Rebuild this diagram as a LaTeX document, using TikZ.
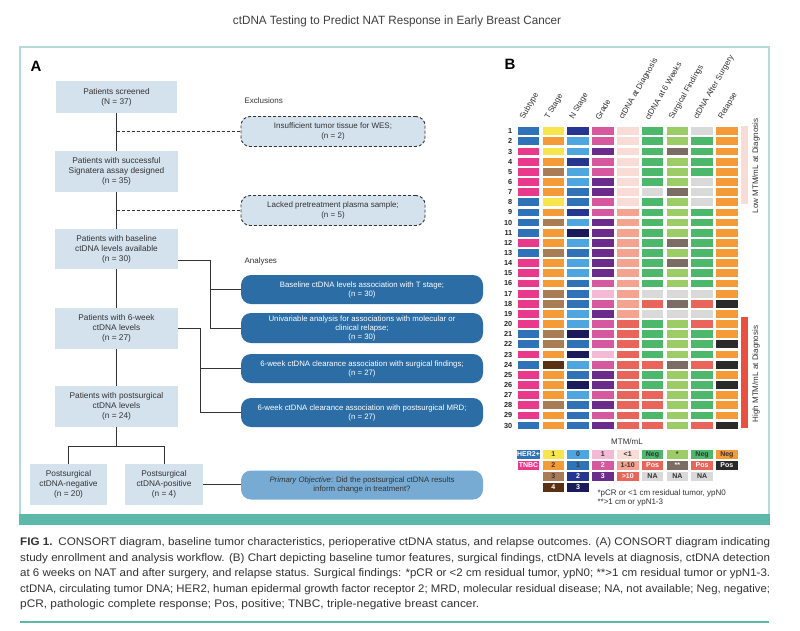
\documentclass[tikz,border=0pt]{standalone}
\usepackage{fontspec}
\setmainfont{Liberation Sans}
\usepackage{graphicx}
\definecolor{cHer}{HTML}{2F72B8}
\definecolor{cTn}{HTML}{E8398B}
\definecolor{cT1}{HTML}{F7E64B}
\definecolor{cT2}{HTML}{F49A36}
\definecolor{cT3}{HTML}{A87D55}
\definecolor{cT4}{HTML}{5A3213}
\definecolor{cN0}{HTML}{4DA6E0}
\definecolor{cN1}{HTML}{2F72B8}
\definecolor{cN2}{HTML}{24368F}
\definecolor{cN3}{HTML}{1B1B5C}
\definecolor{cG1}{HTML}{F3B9D5}
\definecolor{cG2}{HTML}{D6589F}
\definecolor{cG3}{HTML}{6B2B8B}
\definecolor{cD1}{HTML}{FADCD6}
\definecolor{cD2}{HTML}{F4A390}
\definecolor{cD3}{HTML}{E9655B}
\definecolor{cNeg}{HTML}{4DB86B}
\definecolor{cPos}{HTML}{E9655B}
\definecolor{cNA}{HTML}{D9D9D9}
\definecolor{cS1}{HTML}{9CCC66}
\definecolor{cS2}{HTML}{7B6C64}
\definecolor{cRn}{HTML}{F49A36}
\definecolor{cRp}{HTML}{2A2A2A}
\definecolor{cHi}{HTML}{E8503F}
\definecolor{boxfill}{HTML}{D4E2EE}
\definecolor{anafill}{HTML}{2C6DA5}
\definecolor{pofill}{HTML}{77ABD4}
\definecolor{cFrame}{HTML}{B3DCD7}
\definecolor{cTeal}{HTML}{5CB8A9}
\definecolor{txt}{HTML}{333333}
\begin{document}
\begin{tikzpicture}[x=1pt,y=-1pt,
  cbox/.style={fill=boxfill, minimum width=123pt, minimum height=41pt, align=center,
    font=\fontsize{8.3}{10}\selectfont, text=txt, inner sep=1pt},
  exbox/.style={fill=boxfill, draw=txt, dash pattern=on 3pt off 2pt, line width=0.9pt,
    rounded corners=9pt, minimum width=184pt, minimum height=30pt, align=center,
    font=\fontsize{8}{9.5}\selectfont, text=txt, inner sep=1pt},
  anbox/.style={fill=anafill, rounded corners=10pt, minimum width=242pt, minimum height=29pt,
    align=center, font=\fontsize{7.8}{9}\selectfont, text=white, inner sep=1pt},
  pobox/.style={anbox, fill=pofill, text=txt},
  conn/.style={draw=txt, line width=0.9pt},
  dconn/.style={conn, dash pattern=on 3pt off 2pt},
  lbl/.style={anchor=west, font=\fontsize{8}{9}\selectfont, text=txt},
  hdr/.style={anchor=south west, rotate=60, font=\fontsize{8}{9}\selectfont, text=txt, inner sep=0pt},
  rownum/.style={anchor=east, font=\bfseries\fontsize{7.3}{8}\selectfont, text=black!85, inner sep=0pt},
  legc/.style={minimum width=21.6pt, minimum height=8.5pt, inner sep=0pt, font=\bfseries\fontsize{7}{7}\selectfont},
  sidelbl/.style={rotate=90, font=\fontsize{8}{9}\selectfont, text=txt, inner sep=0pt},
  captxt/.style={anchor=west, inner sep=0pt, font=\fontsize{11}{13}\selectfont, text=txt},
  panellbl/.style={font=\bfseries\fontsize{15}{16}\selectfont, text=black}
]
\useasboundingbox (0,0) rectangle (800,630);
\fill[white] (0,0) rectangle (800,630);

% title
\node[inner sep=0pt, font=\fontsize{12}{14}\selectfont, text=black!75] (title) at (397,21)
  {\resizebox{328pt}{\height}{ctDNA Testing to Predict NAT Response in Early Breast Cancer}};

% frame
\draw[cFrame, line width=1.2pt] (20,514) -- (20,47) -- (769,47) -- (769,514);
\fill[cTeal] (19.4,514) rectangle (769.6,525);

% panel labels
\node[panellbl] (pA) at (36,66) {A};
\node[panellbl] (pB) at (510,64) {B};

% ---------- Panel A ----------
\node[cbox, minimum width=121pt, minimum height=32pt] (b1) at (116.5,97) {Patients screened\\(N = 37)};
\node[cbox] (b2) at (116.5,171.5) {Patients with successful\\Signatera assay designed\\(n = 35)};
\node[cbox, minimum height=40pt] (b3) at (116.5,249) {Patients with baseline\\ctDNA levels available\\(n = 30)};
\node[cbox] (b4) at (116.5,328.5) {Patients with 6-week\\ctDNA levels\\(n = 27)};
\node[cbox] (b5) at (116.5,406.5) {Patients with postsurgical\\ctDNA levels\\(n = 24)};
\node[cbox, minimum width=77pt] (b6) at (68.5,484.5) {Postsurgical\\ctDNA-negative\\(n = 20)};
\node[cbox, minimum width=78pt] (b7) at (164,484.5) {Postsurgical\\ctDNA-positive\\(n = 4)};

\node[lbl] (exl) at (241,101) {Exclusions};
\node[exbox] (e1) at (333,131.5) {Insufficient tumor tissue for WES;\\(n = 2)};
\node[exbox] (e2) at (333,210.5) {Lacked pretreatment plasma sample;\\(n = 5)};

\node[lbl] (anl) at (241,261) {Analyses};
\node[anbox] (a1) at (362,289.5) {Baseline ctDNA levels association with T stage;\\(n = 30)};
\node[anbox, minimum height=30pt] (a2) at (362,328) {Univariable analysis for associations with molecular or\\clinical relapse;\\(n = 30)};
\node[anbox] (a3) at (362,368.5) {6-week ctDNA clearance association with surgical findings;\\(n = 27)};
\node[anbox] (a4) at (362,412.5) {6-week ctDNA clearance association with postsurgical MRD;\\(n = 27)};
\node[pobox] (po) at (362,485) {\textit{Primary Objective}: Did the postsurgical ctDNA results\\inform change in treatment?};

\draw[conn] (b1) -- (b2);
\draw[conn] (b2) -- (b3);
\draw[conn] (b3) -- (b4);
\draw[conn] (b4) -- (b5);
\draw[dconn] (b1.south |- e1.west) -- (e1.west);
\draw[dconn] (b2.south |- e2.west) -- (e2.west);

\coordinate (j3) at (210,260);
\draw[conn] (b3.east |- j3) -- (j3) |- (a2.west);
\draw[conn] (j3 |- a1.west) -- (a1.west);
\coordinate (j4) at (200,328.5);
\draw[conn] (b4.east) -- (j4) |- (a4.west);
\draw[conn] (j4 |- a3.west) -- (a3.west);
\coordinate (s5) at (116.5,446);
\draw[conn] (b5.south) -- (s5);
\draw[conn] (b6.north) |- (s5) -| (b7.north);
\draw[conn] (b7.east) -- (b7.east -| po.west);

% ---------- Panel B ----------
\foreach \h [count=\i] in {Subtype, T Stage, N Stage, Grade, ctDNA at Diagnosis, ctDNA at 6 Weeks, Surgical Findings, ctDNA After Surgery, Relapse}
  \node[hdr] (h\i) at ({528.5+24.8*(\i-1)-3}, 121) {\h};

\foreach \r/\rowdata in {
 1/{cHer,cT1,cN2,cG2,cD1,cNeg,cS1,cNA,cRn},
 2/{cHer,cT2,cN0,cG2,cD1,cNeg,cS1,cNeg,cRn},
 3/{cTn,cT1,cN0,cG3,cD1,cNeg,cS2,cNeg,cRn},
 4/{cTn,cT2,cN2,cG2,cD1,cNeg,cS1,cNeg,cRn},
 5/{cTn,cT3,cN0,cG2,cD1,cNeg,cS1,cNeg,cRn},
 6/{cTn,cT2,cN0,cG3,cD1,cNeg,cS1,cNA,cRn},
 7/{cTn,cT2,cN1,cG3,cD1,cNA,cS2,cNA,cRn},
 8/{cHer,cT1,cN1,cG2,cD1,cNeg,cS1,cNA,cRn},
 9/{cHer,cT2,cN2,cG2,cD2,cNeg,cS1,cNeg,cRn},
 10/{cHer,cT3,cN0,cG3,cD2,cNeg,cS1,cNeg,cRn},
 11/{cHer,cT2,cN3,cG3,cD2,cNeg,cS1,cNeg,cRn},
 12/{cTn,cT2,cN0,cG3,cD2,cNeg,cS2,cNeg,cRn},
 13/{cHer,cT3,cN1,cG3,cD2,cNeg,cS1,cNeg,cRn},
 14/{cTn,cT2,cN0,cG3,cD2,cNeg,cS2,cNeg,cRn},
 15/{cTn,cT2,cN0,cG3,cD2,cNeg,cS1,cNeg,cRn},
 16/{cTn,cT2,cN1,cG2,cD2,cNeg,cS1,cNeg,cRn},
 17/{cTn,cT3,cN1,cG1,cD2,cNA,cNA,cNA,cRn},
 18/{cTn,cT3,cN1,cG2,cD2,cPos,cS2,cPos,cRp},
 19/{cTn,cT2,cN0,cG3,cD2,cNA,cNA,cNA,cRn},
 20/{cTn,cT2,cN0,cG2,cD3,cNeg,cS1,cPos,cRn},
 21/{cHer,cT3,cN3,cG2,cD3,cNeg,cS1,cNeg,cRn},
 22/{cHer,cT3,cN1,cG2,cD3,cNeg,cS1,cNeg,cRp},
 23/{cTn,cT2,cN3,cG1,cD3,cNeg,cS1,cNeg,cRn},
 24/{cHer,cT4,cN0,cG2,cD3,cPos,cS2,cPos,cRp},
 25/{cTn,cT2,cN1,cG3,cD3,cNeg,cS1,cNeg,cRn},
 26/{cTn,cT2,cN3,cG3,cD3,cNeg,cS1,cNeg,cRp},
 27/{cTn,cT2,cN0,cG2,cD3,cPos,cS1,cNeg,cRn},
 28/{cTn,cT3,cN1,cG3,cD3,cPos,cS1,cNeg,cRn},
 29/{cTn,cT2,cN1,cG2,cD3,cNeg,cS1,cNeg,cRn},
 30/{cHer,cT2,cN1,cG3,cD3,cPos,cS1,cPos,cRp}} {
  \foreach \c [count=\i] in \rowdata {
    \fill[\c] ({528.5+24.8*(\i-1)-10.8}, {127.3+10.15*(\r-1)}) rectangle ++(21.6,7.8);
  }
  \node[rownum] (rn\r) at (512.5, {131.2+10.15*(\r-1)}) {\r};
}

% side bars
\fill[cD1] (741,126) rectangle (748,204);
\fill[cHi] (741,317) rectangle (748,428);
\node[sidelbl] (lowlbl) at (756,166) {Low MTM/mL at Diagnosis};
\node[sidelbl] (hilbl) at (756,374) {High MTM/mL at Diagnosis};

% legend
\node[font=\fontsize{8}{9}\selectfont, text=txt] (mtm) at (627,442) {MTM/mL};
\foreach \i/\k/\c/\tc/\t in {
 1/1/cHer/white/HER2+, 1/2/cTn/white/TNBC,
 2/1/cT1/txt/1, 2/2/cT2/txt/2, 2/3/cT3/txt/3, 2/4/cT4/white/4,
 3/1/cN0/txt/0, 3/2/cN1/txt/1, 3/3/cN2/white/2, 3/4/cN3/white/3,
 4/1/cG1/txt/1, 4/2/cG2/white/2, 4/3/cG3/white/3,
 5/1/cD1/txt/<1, 5/2/cD2/txt/1-10, 5/3/cD3/white/>10,
 6/1/cNeg/txt/Neg, 6/2/cPos/white/Pos, 6/3/cNA/txt/NA,
 7/1/cS1/txt/*, 7/2/cS2/white/**, 7/3/cNA/txt/NA,
 8/1/cNeg/txt/Neg, 8/2/cPos/white/Pos, 8/3/cNA/txt/NA,
 9/1/cRn/txt/Neg, 9/2/cRp/white/Pos}
  \node[legc, fill=\c, text=\tc] (leg\i\k) at ({528.5+24.8*(\i-1)}, {454.5+11*(\k-1)}) {\t};

\node[lbl] (fn1) at (594,493) {*pCR or <1 cm residual tumor, ypN0};
\node[lbl] (fn2) at (594,502.5) {**>1 cm or ypN1-3};

% caption
\node[captxt] (c1) at (20,543) {\resizebox{750pt}{\height}{\textbf{FIG 1.}\enspace CONSORT diagram, baseline tumor characteristics, perioperative ctDNA status, and relapse outcomes. (A) CONSORT diagram indicating}};
\node[captxt] (c2) at (20,558.5) {\resizebox{750pt}{\height}{study enrollment and analysis workflow. (B) Chart depicting baseline tumor features, surgical findings, ctDNA levels at diagnosis, ctDNA detection}};
\node[captxt] (c3) at (20,574) {\resizebox{750pt}{\height}{at 6 weeks on NAT and after surgery, and relapse status. Surgical findings: *pCR or <2 cm residual tumor, ypN0; **>1 cm residual tumor or ypN1-3.}};
\node[captxt] (c4) at (20,589.5) {\resizebox{750pt}{\height}{ctDNA, circulating tumor DNA; HER2, human epidermal growth factor receptor 2; MRD, molecular residual disease; NA, not available; Neg, negative;}};
\node[captxt] (c5) at (20,605) {\resizebox{459pt}{\height}{pCR, pathologic complete response; Pos, positive; TNBC, triple-negative breast cancer.}};
\draw[cTeal, line width=1.2pt] (20,622) -- (769,622);
\end{tikzpicture}
\end{document}
